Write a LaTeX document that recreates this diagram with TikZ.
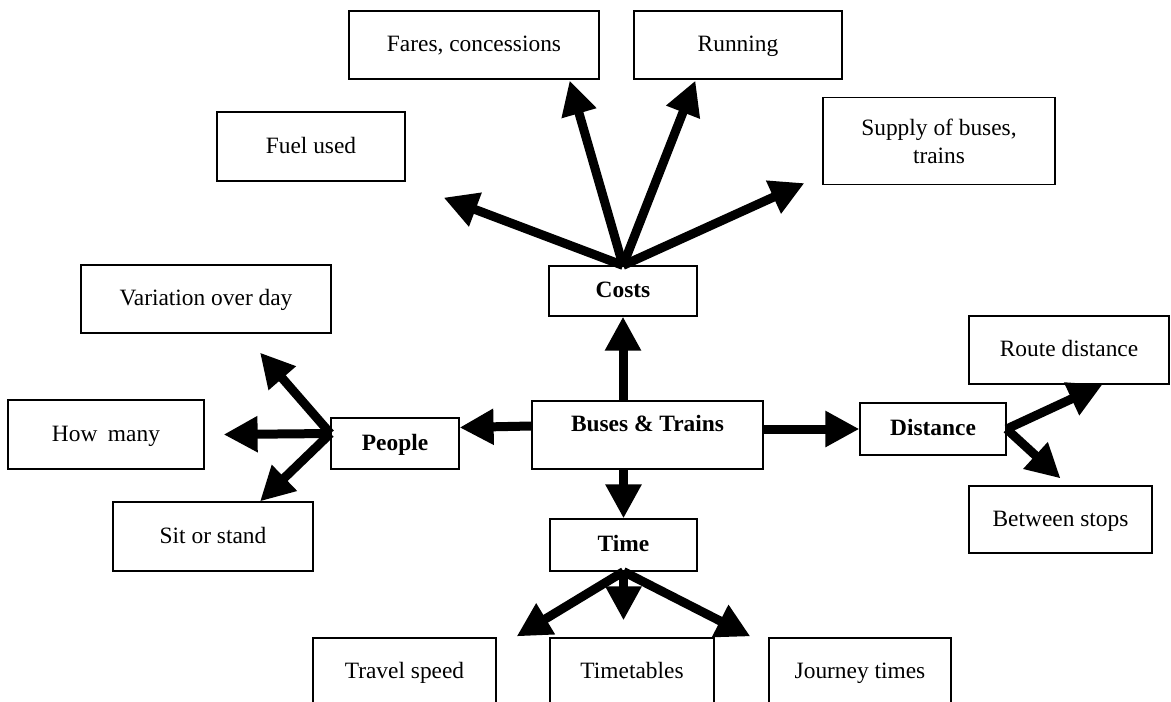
\documentclass[tikz,border=0pt]{standalone}
\usepackage{fontspec}
\setmainfont{Liberation Serif}
\usetikzlibrary{arrows.meta, positioning, calc}

\tikzset{
    box/.style={draw, line width=0.6pt, inner sep=0pt, align=center},
    leaf/.style={box, text height=8.8pt, text depth=2pt},
    fat/.style={-{Triangle[length=17pt, width=17pt]}, line width=4.5pt},
}

\begin{document}
\begin{tikzpicture}[x=0.5pt, y=-0.5pt, font=\fontsize{11.7}{14}\selectfont]
    \useasboundingbox (0,0) rectangle (1171,701);
    \clip (0,0) rectangle (1171,701);

    % Centre and the four branches
    \node[box, minimum width=115.5pt, minimum height=34pt, text depth=12pt] (buses) at (647.5,435) {\textbf{Buses \& Trains}};
    \node[leaf, minimum width=74pt, minimum height=25pt] (costs) at (623,291) {\textbf{Costs}};
    \node[leaf, minimum width=64pt, minimum height=25.5pt] (people) at (395,443.5) {\textbf{People}};
    \node[leaf, minimum width=73pt, minimum height=26pt] (distance) at (933,429) {\textbf{Distance}};
    \node[leaf, minimum width=73.5pt, minimum height=26pt] (time) at (623.5,545) {\textbf{Time}};

    % Costs leaves
    \node[leaf, minimum width=94pt, minimum height=34.5pt] (fuel) at (311,146.5) {Fuel used};
    \node[leaf, minimum width=125pt, minimum height=34pt] (fares) at (474,45) {Fares, concessions};
    \node[leaf, minimum width=104pt, minimum height=34pt] (running) at (738,45) {Running};
    \node[box, minimum width=116pt, minimum height=43.5pt] (supply) at (939,141) {Supply of buses,\\trains};

    % People leaves
    \node[leaf, minimum width=125pt, minimum height=34pt] (variation) at (206,299) {Variation over day};
    \node[leaf, minimum width=98pt, minimum height=34.5pt] (howmany) at (106,434.5) {How\hspace{0.45em}many};
    \node[leaf, minimum width=100pt, minimum height=34.5pt] (sit) at (213,536.5) {Sit or stand};

    % Distance leaves
    \node[leaf, minimum width=100pt, minimum height=34pt] (route) at (1069,350) {Route distance};
    \node[leaf, minimum width=91.5pt, minimum height=33.5pt] (between) at (1060.5,519.5) {Between stops};

    % Time leaves (cut off at the bottom)
    \node[leaf, minimum width=91.5pt, minimum height=34pt] (travel) at (404.5,672) {Travel speed};
    \node[leaf, minimum width=82pt, minimum height=34pt] (timetables) at (632,672) {Timetables};
    \node[leaf, minimum width=91pt, minimum height=34pt] (journey) at (860,672) {Journey times};

    % Centre to branches
    \draw[fat] (buses.north -| costs.south) -- (costs.south);
    \draw[fat] ($(buses.west)+(0,-9)$) -- ($(people.east)+(0,-16)$);
    \draw[fat] (buses.east |- distance.west) -- (distance.west);
    \draw[fat] (buses.south -| time.north) -- (time.north);

    % Costs fan
    \draw[fat] (costs.north) -- ($(fuel.south east)+(38,16)$);
    \draw[fat] (costs.north) -- ($(fares.south east)+(-30,1)$);
    \draw[fat] (costs.north) -- ($(running.south west)+(62,1)$);
    \draw[fat] (costs.north) -- ($(supply.south west)+(-18,-2)$);

    % People fan
    \draw[fat] ($(people.west)+(0,-10)$) -- ($(variation.south)+(54,19)$);
    \draw[fat] ($(people.west)+(0,-10)$) -- ($(howmany.east)+(19,0)$);
    \draw[fat] ($(people.west)+(0,-10)$) -- ($(sit.north)+(47,0)$);

    % Distance fan
    \draw[fat] (distance.east) -- ($(route.south west)+(134,0)$);
    \draw[fat] (distance.east) -- ($(between.north)+(0,-7)$);

    % Time fan
    \draw[fat] (time.south) -- ($(travel.north east)+(20,-1)$);
    \draw[fat] (time.south) -- ($(time.south |- timetables.north)+(0,-17)$);
    \draw[fat] (time.south) -- ($(journey.north west)+(-18,-1)$);
\end{tikzpicture}
\end{document}
